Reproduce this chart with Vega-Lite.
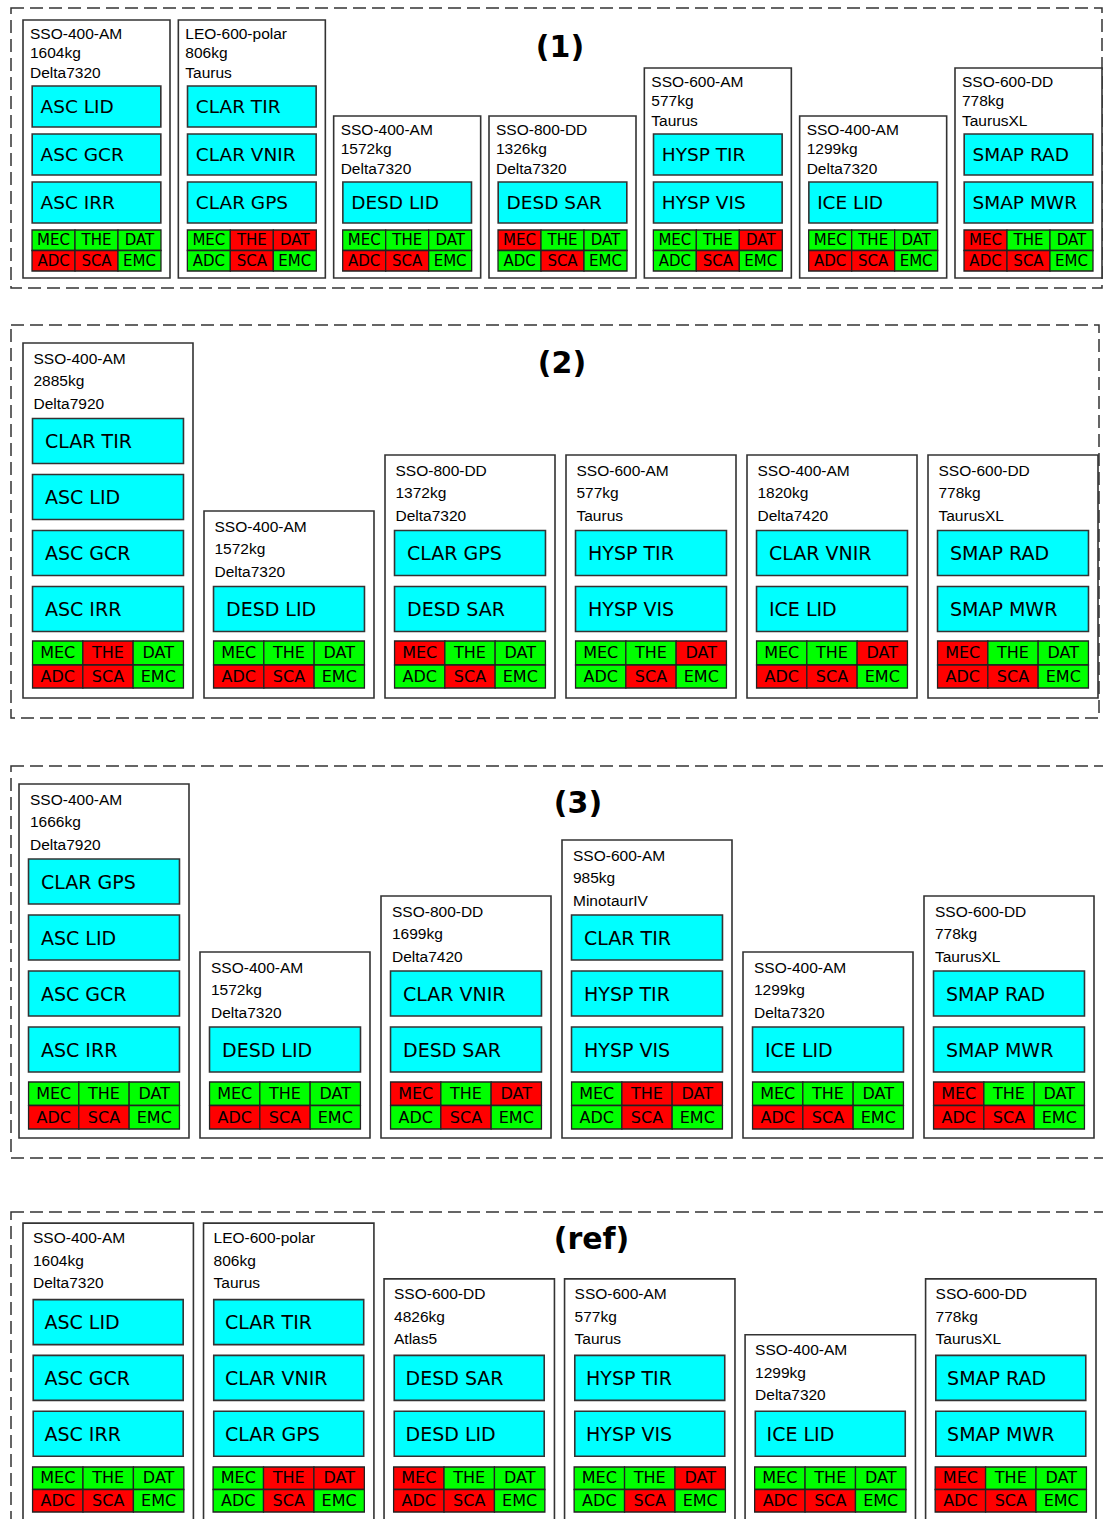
{
  "$schema": "https://vega.github.io/schema/vega-lite/v6.json",
  "padding": {"left": 10, "top": 7, "right": 0, "bottom": 0},
  "autosize": {"type": "pad"},
  "background": "white",
  "config": {
    "view": {"stroke": "#333", "strokeWidth": 1.5, "strokeDash": [13, 6]},
    "title": {"font": "DejaVu Sans", "fontSize": 30, "fontWeight": "bold", "anchor": "middle", "baseline": "alphabetic", "color": "#000"},
    "text": {"color": "#000"}
  },
  "datasets": {
    "sats": [
      {"id": "1-1", "panel": "1", "sat": 1, "orbit": "SSO-400-AM", "mass": "1604kg", "launcher": "Delta7320", "MEC": "ok", "THE": "ok", "DAT": "ok", "ADC": "fail", "SCA": "fail", "EMC": "ok"},
      {"id": "1-2", "panel": "1", "sat": 2, "orbit": "LEO-600-polar", "mass": "806kg", "launcher": "Taurus", "MEC": "ok", "THE": "fail", "DAT": "fail", "ADC": "ok", "SCA": "fail", "EMC": "ok"},
      {"id": "1-3", "panel": "1", "sat": 3, "orbit": "SSO-400-AM", "mass": "1572kg", "launcher": "Delta7320", "MEC": "ok", "THE": "ok", "DAT": "ok", "ADC": "fail", "SCA": "fail", "EMC": "ok"},
      {"id": "1-4", "panel": "1", "sat": 4, "orbit": "SSO-800-DD", "mass": "1326kg", "launcher": "Delta7320", "MEC": "fail", "THE": "ok", "DAT": "ok", "ADC": "ok", "SCA": "fail", "EMC": "ok"},
      {"id": "1-5", "panel": "1", "sat": 5, "orbit": "SSO-600-AM", "mass": "577kg", "launcher": "Taurus", "MEC": "ok", "THE": "ok", "DAT": "fail", "ADC": "ok", "SCA": "fail", "EMC": "ok"},
      {"id": "1-6", "panel": "1", "sat": 6, "orbit": "SSO-400-AM", "mass": "1299kg", "launcher": "Delta7320", "MEC": "ok", "THE": "ok", "DAT": "ok", "ADC": "fail", "SCA": "fail", "EMC": "ok"},
      {"id": "1-7", "panel": "1", "sat": 7, "orbit": "SSO-600-DD", "mass": "778kg", "launcher": "TaurusXL", "MEC": "fail", "THE": "ok", "DAT": "ok", "ADC": "fail", "SCA": "fail", "EMC": "ok"},
      {"id": "2-1", "panel": "2", "sat": 1, "orbit": "SSO-400-AM", "mass": "2885kg", "launcher": "Delta7920", "MEC": "ok", "THE": "fail", "DAT": "ok", "ADC": "fail", "SCA": "fail", "EMC": "ok"},
      {"id": "2-2", "panel": "2", "sat": 2, "orbit": "SSO-400-AM", "mass": "1572kg", "launcher": "Delta7320", "MEC": "ok", "THE": "ok", "DAT": "ok", "ADC": "fail", "SCA": "fail", "EMC": "ok"},
      {"id": "2-3", "panel": "2", "sat": 3, "orbit": "SSO-800-DD", "mass": "1372kg", "launcher": "Delta7320", "MEC": "fail", "THE": "ok", "DAT": "ok", "ADC": "ok", "SCA": "fail", "EMC": "ok"},
      {"id": "2-4", "panel": "2", "sat": 4, "orbit": "SSO-600-AM", "mass": "577kg", "launcher": "Taurus", "MEC": "ok", "THE": "ok", "DAT": "fail", "ADC": "ok", "SCA": "fail", "EMC": "ok"},
      {"id": "2-5", "panel": "2", "sat": 5, "orbit": "SSO-400-AM", "mass": "1820kg", "launcher": "Delta7420", "MEC": "ok", "THE": "ok", "DAT": "fail", "ADC": "fail", "SCA": "fail", "EMC": "ok"},
      {"id": "2-6", "panel": "2", "sat": 6, "orbit": "SSO-600-DD", "mass": "778kg", "launcher": "TaurusXL", "MEC": "fail", "THE": "ok", "DAT": "ok", "ADC": "fail", "SCA": "fail", "EMC": "ok"},
      {"id": "3-1", "panel": "3", "sat": 1, "orbit": "SSO-400-AM", "mass": "1666kg", "launcher": "Delta7920", "MEC": "ok", "THE": "ok", "DAT": "ok", "ADC": "fail", "SCA": "fail", "EMC": "ok"},
      {"id": "3-2", "panel": "3", "sat": 2, "orbit": "SSO-400-AM", "mass": "1572kg", "launcher": "Delta7320", "MEC": "ok", "THE": "ok", "DAT": "ok", "ADC": "fail", "SCA": "fail", "EMC": "ok"},
      {"id": "3-3", "panel": "3", "sat": 3, "orbit": "SSO-800-DD", "mass": "1699kg", "launcher": "Delta7420", "MEC": "fail", "THE": "ok", "DAT": "fail", "ADC": "ok", "SCA": "fail", "EMC": "ok"},
      {"id": "3-4", "panel": "3", "sat": 4, "orbit": "SSO-600-AM", "mass": "985kg", "launcher": "MinotaurIV", "MEC": "ok", "THE": "fail", "DAT": "fail", "ADC": "ok", "SCA": "fail", "EMC": "ok"},
      {"id": "3-5", "panel": "3", "sat": 5, "orbit": "SSO-400-AM", "mass": "1299kg", "launcher": "Delta7320", "MEC": "ok", "THE": "ok", "DAT": "ok", "ADC": "fail", "SCA": "fail", "EMC": "ok"},
      {"id": "3-6", "panel": "3", "sat": 6, "orbit": "SSO-600-DD", "mass": "778kg", "launcher": "TaurusXL", "MEC": "fail", "THE": "ok", "DAT": "ok", "ADC": "fail", "SCA": "fail", "EMC": "ok"},
      {"id": "r-1", "panel": "ref", "sat": 1, "orbit": "SSO-400-AM", "mass": "1604kg", "launcher": "Delta7320", "MEC": "ok", "THE": "ok", "DAT": "ok", "ADC": "fail", "SCA": "fail", "EMC": "ok"},
      {"id": "r-2", "panel": "ref", "sat": 2, "orbit": "LEO-600-polar", "mass": "806kg", "launcher": "Taurus", "MEC": "ok", "THE": "fail", "DAT": "fail", "ADC": "ok", "SCA": "fail", "EMC": "ok"},
      {"id": "r-3", "panel": "ref", "sat": 3, "orbit": "SSO-600-DD", "mass": "4826kg", "launcher": "Atlas5", "MEC": "fail", "THE": "ok", "DAT": "ok", "ADC": "fail", "SCA": "fail", "EMC": "ok"},
      {"id": "r-4", "panel": "ref", "sat": 4, "orbit": "SSO-600-AM", "mass": "577kg", "launcher": "Taurus", "MEC": "ok", "THE": "ok", "DAT": "fail", "ADC": "ok", "SCA": "fail", "EMC": "ok"},
      {"id": "r-5", "panel": "ref", "sat": 5, "orbit": "SSO-400-AM", "mass": "1299kg", "launcher": "Delta7320", "MEC": "ok", "THE": "ok", "DAT": "ok", "ADC": "fail", "SCA": "fail", "EMC": "ok"},
      {"id": "r-6", "panel": "ref", "sat": 6, "orbit": "SSO-600-DD", "mass": "778kg", "launcher": "TaurusXL", "MEC": "fail", "THE": "ok", "DAT": "ok", "ADC": "fail", "SCA": "fail", "EMC": "ok"}
    ],
    "inst": [
      {"id": "1-1", "slot": 3, "name": "ASC LID"}, {"id": "1-1", "slot": 2, "name": "ASC GCR"}, {"id": "1-1", "slot": 1, "name": "ASC IRR"},
      {"id": "1-2", "slot": 3, "name": "CLAR TIR"}, {"id": "1-2", "slot": 2, "name": "CLAR VNIR"}, {"id": "1-2", "slot": 1, "name": "CLAR GPS"},
      {"id": "1-3", "slot": 1, "name": "DESD LID"},
      {"id": "1-4", "slot": 1, "name": "DESD SAR"},
      {"id": "1-5", "slot": 2, "name": "HYSP TIR"}, {"id": "1-5", "slot": 1, "name": "HYSP VIS"},
      {"id": "1-6", "slot": 1, "name": "ICE LID"},
      {"id": "1-7", "slot": 2, "name": "SMAP RAD"}, {"id": "1-7", "slot": 1, "name": "SMAP MWR"},
      {"id": "2-1", "slot": 4, "name": "CLAR TIR"}, {"id": "2-1", "slot": 3, "name": "ASC LID"}, {"id": "2-1", "slot": 2, "name": "ASC GCR"}, {"id": "2-1", "slot": 1, "name": "ASC IRR"},
      {"id": "2-2", "slot": 1, "name": "DESD LID"},
      {"id": "2-3", "slot": 2, "name": "CLAR GPS"}, {"id": "2-3", "slot": 1, "name": "DESD SAR"},
      {"id": "2-4", "slot": 2, "name": "HYSP TIR"}, {"id": "2-4", "slot": 1, "name": "HYSP VIS"},
      {"id": "2-5", "slot": 2, "name": "CLAR VNIR"}, {"id": "2-5", "slot": 1, "name": "ICE LID"},
      {"id": "2-6", "slot": 2, "name": "SMAP RAD"}, {"id": "2-6", "slot": 1, "name": "SMAP MWR"},
      {"id": "3-1", "slot": 4, "name": "CLAR GPS"}, {"id": "3-1", "slot": 3, "name": "ASC LID"}, {"id": "3-1", "slot": 2, "name": "ASC GCR"}, {"id": "3-1", "slot": 1, "name": "ASC IRR"},
      {"id": "3-2", "slot": 1, "name": "DESD LID"},
      {"id": "3-3", "slot": 2, "name": "CLAR VNIR"}, {"id": "3-3", "slot": 1, "name": "DESD SAR"},
      {"id": "3-4", "slot": 3, "name": "CLAR TIR"}, {"id": "3-4", "slot": 2, "name": "HYSP TIR"}, {"id": "3-4", "slot": 1, "name": "HYSP VIS"},
      {"id": "3-5", "slot": 1, "name": "ICE LID"},
      {"id": "3-6", "slot": 2, "name": "SMAP RAD"}, {"id": "3-6", "slot": 1, "name": "SMAP MWR"},
      {"id": "r-1", "slot": 3, "name": "ASC LID"}, {"id": "r-1", "slot": 2, "name": "ASC GCR"}, {"id": "r-1", "slot": 1, "name": "ASC IRR"},
      {"id": "r-2", "slot": 3, "name": "CLAR TIR"}, {"id": "r-2", "slot": 2, "name": "CLAR VNIR"}, {"id": "r-2", "slot": 1, "name": "CLAR GPS"},
      {"id": "r-3", "slot": 2, "name": "DESD SAR"}, {"id": "r-3", "slot": 1, "name": "DESD LID"},
      {"id": "r-4", "slot": 2, "name": "HYSP TIR"}, {"id": "r-4", "slot": 1, "name": "HYSP VIS"},
      {"id": "r-5", "slot": 1, "name": "ICE LID"},
      {"id": "r-6", "slot": 2, "name": "SMAP RAD"}, {"id": "r-6", "slot": 1, "name": "SMAP MWR"}
    ]
  },
  "resolve": {"scale": {"x": "independent", "y": "independent", "xOffset": "independent"}},
  "spacing": 52,
  "vconcat": [
    {
      "resolve": {"scale": {"x": "independent", "y": "independent", "xOffset": "independent"}},
      "spacing": 46,
      "vconcat": [
        {
          "resolve": {"scale": {"x": "independent", "y": "independent", "xOffset": "independent"}},
          "spacing": 35,
          "vconcat": [
            {
              "width": 1091, "height": 280,
              "title": {"text": "(1)", "offset": -55, "dx": 3.5},
              "resolve": {"scale": {"xOffset": "independent"}},
              "layer": [
                {
                  "data": {"name": "inst"},
                  "transform": [
                    {"lookup": "id", "from": {"data": {"name": "sats"}, "key": "id", "fields": ["panel", "sat", "orbit", "mass", "launcher"]}},
                    {"filter": "datum.panel === '1'"}
                  ],
                  "layer": [
                    {
                      "mark": {"type": "rect", "fill": "white", "stroke": "#333", "strokeWidth": 1.6, "yOffset": -86.5, "y2Offset": 27.5},
                      "encoding": {
                        "x": {"field": "sat", "type": "ordinal", "scale": {"type": "band", "domain": [1, 2, 3, 4, 5, 6, 7], "range": [12, 1091], "paddingInner": 0.0536, "paddingOuter": 0}, "axis": null},
                        "y": {"aggregate": "max", "field": "slot", "type": "quantitative", "scale": {"domain": [-0.78125, 5.05208], "nice": false, "zero": false}, "axis": null},
                        "y2": {"datum": 0}
                      }
                    },
                    {
                      "mark": {"type": "rect", "fill": "#00ffff", "stroke": "#333", "strokeWidth": 1.6, "width": {"band": 0.875}, "yOffset": -20.5, "y2Offset": 20.5},
                      "encoding": {
                        "x": {"field": "sat", "type": "ordinal", "axis": null},
                        "y": {"field": "slot", "type": "quantitative", "axis": null},
                        "y2": {"field": "slot"}
                      }
                    },
                    {
                      "mark": {"type": "text", "align": "left", "baseline": "middle", "font": "DejaVu Sans", "fontSize": 18.5, "dx": 17.5, "dy": 1},
                      "encoding": {
                        "x": {"field": "sat", "type": "ordinal", "bandPosition": 0, "axis": null},
                        "y": {"field": "slot", "type": "quantitative", "axis": null},
                        "text": {"field": "name"}
                      }
                    }
                  ]
                },
                {
                  "data": {"name": "inst"},
                  "transform": [
                    {"lookup": "id", "from": {"data": {"name": "sats"}, "key": "id", "fields": ["panel", "sat", "orbit", "mass", "launcher"]}},
                    {"filter": "datum.panel === '1'"},
                    {"joinaggregate": [{"op": "max", "field": "slot", "as": "top"}], "groupby": ["id"]},
                    {"filter": "datum.slot === datum.top"}
                  ],
                  "encoding": {
                    "x": {"field": "sat", "type": "ordinal", "bandPosition": 0, "axis": null},
                    "y": {"field": "slot", "type": "quantitative", "axis": null}
                  },
                  "layer": [
                    {"mark": {"type": "text", "align": "left", "baseline": "middle", "font": "Liberation Sans", "fontSize": 15.5, "dx": 7, "yOffset": -72.5}, "encoding": {"text": {"field": "orbit"}}},
                    {"mark": {"type": "text", "align": "left", "baseline": "middle", "font": "Liberation Sans", "fontSize": 15.5, "dx": 7, "yOffset": -53.5}, "encoding": {"text": {"field": "mass"}}},
                    {"mark": {"type": "text", "align": "left", "baseline": "middle", "font": "Liberation Sans", "fontSize": 15.5, "dx": 7, "yOffset": -33.5}, "encoding": {"text": {"field": "launcher"}}}
                  ]
                },
                {
                  "data": {"name": "sats"},
                  "transform": [{"filter": "datum.panel === '1'"}, {"fold": ["MEC", "THE", "DAT"], "as": ["code", "state"]}],
                  "encoding": {
                    "x": {"field": "sat", "type": "ordinal", "axis": null},
                    "xOffset": {"field": "code", "type": "nominal", "scale": {"domain": ["MEC", "THE", "DAT"], "paddingOuter": 0.21, "paddingInner": 0}},
                    "y": {"datum": 0, "axis": null}
                  },
                  "layer": [
                    {"mark": {"type": "rect", "stroke": "#222", "strokeWidth": 1.3, "yOffset": -20.5, "y2Offset": 0}, "encoding": {"y2": {"datum": 0}, "color": {"field": "state", "type": "nominal", "scale": {"domain": ["ok", "fail"], "range": ["#00ff00", "#ff0000"]}, "legend": null}}},
                    {"mark": {"type": "text", "align": "center", "baseline": "middle", "font": "DejaVu Sans", "fontSize": 15, "yOffset": -10}, "encoding": {"text": {"field": "code"}}}
                  ]
                },
                {
                  "data": {"name": "sats"},
                  "transform": [{"filter": "datum.panel === '1'"}, {"fold": ["ADC", "SCA", "EMC"], "as": ["code", "state"]}],
                  "encoding": {
                    "x": {"field": "sat", "type": "ordinal", "axis": null},
                    "xOffset": {"field": "code", "type": "nominal", "scale": {"domain": ["ADC", "SCA", "EMC"], "paddingOuter": 0.21, "paddingInner": 0}},
                    "y": {"datum": 0, "axis": null}
                  },
                  "layer": [
                    {"mark": {"type": "rect", "stroke": "#222", "strokeWidth": 1.3, "yOffset": 0, "y2Offset": 20.5}, "encoding": {"y2": {"datum": 0}, "color": {"field": "state", "type": "nominal", "scale": {"domain": ["ok", "fail"], "range": ["#00ff00", "#ff0000"]}, "legend": null}}},
                    {"mark": {"type": "text", "align": "center", "baseline": "middle", "font": "DejaVu Sans", "fontSize": 15, "yOffset": 10.5}, "encoding": {"text": {"field": "code"}}}
                  ]
                }
              ]
            },
            {
              "width": 1088, "height": 393,
              "title": {"text": "(2)", "offset": -54, "dx": 7},
              "resolve": {"scale": {"xOffset": "independent"}},
              "layer": [
                {
                  "data": {"name": "inst"},
                  "transform": [
                    {"lookup": "id", "from": {"data": {"name": "sats"}, "key": "id", "fields": ["panel", "sat", "orbit", "mass", "launcher"]}},
                    {"filter": "datum.panel === '2'"}
                  ],
                  "layer": [
                    {
                      "mark": {"type": "rect", "fill": "white", "stroke": "#333", "strokeWidth": 1.6, "yOffset": -98, "y2Offset": 33},
                      "encoding": {
                        "x": {"field": "sat", "type": "ordinal", "scale": {"type": "band", "domain": [1, 2, 3, 4, 5, 6], "range": [12, 1087], "paddingInner": 0.0608, "paddingOuter": 0}, "axis": null},
                        "y": {"aggregate": "max", "field": "slot", "type": "quantitative", "scale": {"domain": [-0.94643, 6.07143], "nice": false, "zero": false}, "axis": null},
                        "y2": {"datum": 0}
                      }
                    },
                    {
                      "mark": {"type": "rect", "fill": "#00ffff", "stroke": "#333", "strokeWidth": 1.6, "width": {"band": 0.888}, "yOffset": -22.5, "y2Offset": 22.5},
                      "encoding": {
                        "x": {"field": "sat", "type": "ordinal", "axis": null},
                        "y": {"field": "slot", "type": "quantitative", "axis": null},
                        "y2": {"field": "slot"}
                      }
                    },
                    {
                      "mark": {"type": "text", "align": "left", "baseline": "middle", "font": "DejaVu Sans", "fontSize": 19, "dx": 22, "dy": 1},
                      "encoding": {
                        "x": {"field": "sat", "type": "ordinal", "bandPosition": 0, "axis": null},
                        "y": {"field": "slot", "type": "quantitative", "axis": null},
                        "text": {"field": "name"}
                      }
                    }
                  ]
                },
                {
                  "data": {"name": "inst"},
                  "transform": [
                    {"lookup": "id", "from": {"data": {"name": "sats"}, "key": "id", "fields": ["panel", "sat", "orbit", "mass", "launcher"]}},
                    {"filter": "datum.panel === '2'"},
                    {"joinaggregate": [{"op": "max", "field": "slot", "as": "top"}], "groupby": ["id"]},
                    {"filter": "datum.slot === datum.top"}
                  ],
                  "encoding": {
                    "x": {"field": "sat", "type": "ordinal", "bandPosition": 0, "axis": null},
                    "y": {"field": "slot", "type": "quantitative", "axis": null}
                  },
                  "layer": [
                    {"mark": {"type": "text", "align": "left", "baseline": "middle", "font": "Liberation Sans", "fontSize": 15.5, "dx": 10.5, "yOffset": -82}, "encoding": {"text": {"field": "orbit"}}},
                    {"mark": {"type": "text", "align": "left", "baseline": "middle", "font": "Liberation Sans", "fontSize": 15.5, "dx": 10.5, "yOffset": -60}, "encoding": {"text": {"field": "mass"}}},
                    {"mark": {"type": "text", "align": "left", "baseline": "middle", "font": "Liberation Sans", "fontSize": 15.5, "dx": 10.5, "yOffset": -37}, "encoding": {"text": {"field": "launcher"}}}
                  ]
                },
                {
                  "data": {"name": "sats"},
                  "transform": [{"filter": "datum.panel === '2'"}, {"fold": ["MEC", "THE", "DAT"], "as": ["code", "state"]}],
                  "encoding": {
                    "x": {"field": "sat", "type": "ordinal", "axis": null},
                    "xOffset": {"field": "code", "type": "nominal", "scale": {"domain": ["MEC", "THE", "DAT"], "paddingOuter": 0.19, "paddingInner": 0}},
                    "y": {"datum": 0, "axis": null}
                  },
                  "layer": [
                    {"mark": {"type": "rect", "stroke": "#222", "strokeWidth": 1.3, "yOffset": -24, "y2Offset": 0}, "encoding": {"y2": {"datum": 0}, "color": {"field": "state", "type": "nominal", "scale": {"domain": ["ok", "fail"], "range": ["#00ff00", "#ff0000"]}, "legend": null}}},
                    {"mark": {"type": "text", "align": "center", "baseline": "middle", "font": "DejaVu Sans", "fontSize": 16, "yOffset": -11.5}, "encoding": {"text": {"field": "code"}}}
                  ]
                },
                {
                  "data": {"name": "sats"},
                  "transform": [{"filter": "datum.panel === '2'"}, {"fold": ["ADC", "SCA", "EMC"], "as": ["code", "state"]}],
                  "encoding": {
                    "x": {"field": "sat", "type": "ordinal", "axis": null},
                    "xOffset": {"field": "code", "type": "nominal", "scale": {"domain": ["ADC", "SCA", "EMC"], "paddingOuter": 0.19, "paddingInner": 0}},
                    "y": {"datum": 0, "axis": null}
                  },
                  "layer": [
                    {"mark": {"type": "rect", "stroke": "#222", "strokeWidth": 1.3, "yOffset": 0, "y2Offset": 23}, "encoding": {"y2": {"datum": 0}, "color": {"field": "state", "type": "nominal", "scale": {"domain": ["ok", "fail"], "range": ["#00ff00", "#ff0000"]}, "legend": null}}},
                    {"mark": {"type": "text", "align": "center", "baseline": "middle", "font": "DejaVu Sans", "fontSize": 16, "yOffset": 12}, "encoding": {"text": {"field": "code"}}}
                  ]
                }
              ]
            }
          ]
        },
        {
          "width": 1093, "height": 392,
          "title": {"text": "(3)", "offset": -53, "dx": 20.5},
          "resolve": {"scale": {"xOffset": "independent"}},
          "layer": [
            {
              "data": {"name": "inst"},
              "transform": [
                {"lookup": "id", "from": {"data": {"name": "sats"}, "key": "id", "fields": ["panel", "sat", "orbit", "mass", "launcher"]}},
                {"filter": "datum.panel === '3'"}
              ],
              "layer": [
                {
                  "mark": {"type": "rect", "fill": "white", "stroke": "#333", "strokeWidth": 1.6, "yOffset": -97.5, "y2Offset": 32.5},
                  "encoding": {
                    "x": {"field": "sat", "type": "ordinal", "scale": {"type": "band", "domain": [1, 2, 3, 4, 5, 6], "range": [8, 1083], "paddingInner": 0.0608, "paddingOuter": 0}, "axis": null},
                    "y": {"aggregate": "max", "field": "slot", "type": "quantitative", "scale": {"domain": [-0.9375, 6.0625], "nice": false, "zero": false}, "axis": null},
                    "y2": {"datum": 0}
                  }
                },
                {
                  "mark": {"type": "rect", "fill": "#00ffff", "stroke": "#333", "strokeWidth": 1.6, "width": {"band": 0.888}, "yOffset": -22.5, "y2Offset": 22.5},
                  "encoding": {
                    "x": {"field": "sat", "type": "ordinal", "axis": null},
                    "y": {"field": "slot", "type": "quantitative", "axis": null},
                    "y2": {"field": "slot"}
                  }
                },
                {
                  "mark": {"type": "text", "align": "left", "baseline": "middle", "font": "DejaVu Sans", "fontSize": 19, "dx": 22, "dy": 1},
                  "encoding": {
                    "x": {"field": "sat", "type": "ordinal", "bandPosition": 0, "axis": null},
                    "y": {"field": "slot", "type": "quantitative", "axis": null},
                    "text": {"field": "name"}
                  }
                }
              ]
            },
            {
              "data": {"name": "inst"},
              "transform": [
                {"lookup": "id", "from": {"data": {"name": "sats"}, "key": "id", "fields": ["panel", "sat", "orbit", "mass", "launcher"]}},
                {"filter": "datum.panel === '3'"},
                {"joinaggregate": [{"op": "max", "field": "slot", "as": "top"}], "groupby": ["id"]},
                {"filter": "datum.slot === datum.top"}
              ],
              "encoding": {
                "x": {"field": "sat", "type": "ordinal", "bandPosition": 0, "axis": null},
                "y": {"field": "slot", "type": "quantitative", "axis": null}
              },
              "layer": [
                {"mark": {"type": "text", "align": "left", "baseline": "middle", "font": "Liberation Sans", "fontSize": 15.5, "dx": 11, "yOffset": -81.5}, "encoding": {"text": {"field": "orbit"}}},
                {"mark": {"type": "text", "align": "left", "baseline": "middle", "font": "Liberation Sans", "fontSize": 15.5, "dx": 11, "yOffset": -59.5}, "encoding": {"text": {"field": "mass"}}},
                {"mark": {"type": "text", "align": "left", "baseline": "middle", "font": "Liberation Sans", "fontSize": 15.5, "dx": 11, "yOffset": -36.5}, "encoding": {"text": {"field": "launcher"}}}
              ]
            },
            {
              "data": {"name": "sats"},
              "transform": [{"filter": "datum.panel === '3'"}, {"fold": ["MEC", "THE", "DAT"], "as": ["code", "state"]}],
              "encoding": {
                "x": {"field": "sat", "type": "ordinal", "axis": null},
                "xOffset": {"field": "code", "type": "nominal", "scale": {"domain": ["MEC", "THE", "DAT"], "paddingOuter": 0.19, "paddingInner": 0}},
                "y": {"datum": 0, "axis": null}
              },
              "layer": [
                {"mark": {"type": "rect", "stroke": "#222", "strokeWidth": 1.3, "yOffset": -23.5, "y2Offset": 0}, "encoding": {"y2": {"datum": 0}, "color": {"field": "state", "type": "nominal", "scale": {"domain": ["ok", "fail"], "range": ["#00ff00", "#ff0000"]}, "legend": null}}},
                {"mark": {"type": "text", "align": "center", "baseline": "middle", "font": "DejaVu Sans", "fontSize": 16, "yOffset": -11.5}, "encoding": {"text": {"field": "code"}}}
              ]
            },
            {
              "data": {"name": "sats"},
              "transform": [{"filter": "datum.panel === '3'"}, {"fold": ["ADC", "SCA", "EMC"], "as": ["code", "state"]}],
              "encoding": {
                "x": {"field": "sat", "type": "ordinal", "axis": null},
                "xOffset": {"field": "code", "type": "nominal", "scale": {"domain": ["ADC", "SCA", "EMC"], "paddingOuter": 0.19, "paddingInner": 0}},
                "y": {"datum": 0, "axis": null}
              },
              "layer": [
                {"mark": {"type": "rect", "stroke": "#222", "strokeWidth": 1.3, "yOffset": 0, "y2Offset": 23.5}, "encoding": {"y2": {"datum": 0}, "color": {"field": "state", "type": "nominal", "scale": {"domain": ["ok", "fail"], "range": ["#00ff00", "#ff0000"]}, "legend": null}}},
                {"mark": {"type": "text", "align": "center", "baseline": "middle", "font": "DejaVu Sans", "fontSize": 16, "yOffset": 12}, "encoding": {"text": {"field": "code"}}}
              ]
            }
          ]
        }
      ]
    },
    {
      "width": 1093, "height": 393,
      "title": {"text": "(ref)", "offset": -43, "dx": 34},
      "resolve": {"scale": {"xOffset": "independent"}},
      "layer": [
        {
          "data": {"name": "inst"},
          "transform": [
            {"lookup": "id", "from": {"data": {"name": "sats"}, "key": "id", "fields": ["panel", "sat", "orbit", "mass", "launcher"]}},
            {"filter": "datum.panel === 'ref'"}
          ],
          "layer": [
            {
              "mark": {"type": "rect", "fill": "white", "stroke": "#333", "strokeWidth": 1.6, "yOffset": -99, "y2Offset": 32.5},
              "encoding": {
                "x": {"field": "sat", "type": "ordinal", "scale": {"type": "band", "domain": [1, 2, 3, 4, 5, 6], "range": [12, 1085], "paddingInner": 0.056, "paddingOuter": 0}, "axis": null},
                "y": {"aggregate": "max", "field": "slot", "type": "quantitative", "scale": {"domain": [-2.0699, 4.973], "nice": false, "zero": false}, "axis": null},
                "y2": {"datum": 0}
              }
            },
            {
              "mark": {"type": "rect", "fill": "#00ffff", "stroke": "#333", "strokeWidth": 1.6, "width": {"band": 0.88}, "yOffset": -22.5, "y2Offset": 22.5},
              "encoding": {
                "x": {"field": "sat", "type": "ordinal", "axis": null},
                "y": {"field": "slot", "type": "quantitative", "axis": null},
                "y2": {"field": "slot"}
              }
            },
            {
              "mark": {"type": "text", "align": "left", "baseline": "middle", "font": "DejaVu Sans", "fontSize": 19, "dx": 21.5, "dy": 1},
              "encoding": {
                "x": {"field": "sat", "type": "ordinal", "bandPosition": 0, "axis": null},
                "y": {"field": "slot", "type": "quantitative", "axis": null},
                "text": {"field": "name"}
              }
            }
          ]
        },
        {
          "data": {"name": "inst"},
          "transform": [
            {"lookup": "id", "from": {"data": {"name": "sats"}, "key": "id", "fields": ["panel", "sat", "orbit", "mass", "launcher"]}},
            {"filter": "datum.panel === 'ref'"},
            {"joinaggregate": [{"op": "max", "field": "slot", "as": "top"}], "groupby": ["id"]},
            {"filter": "datum.slot === datum.top"}
          ],
          "encoding": {
            "x": {"field": "sat", "type": "ordinal", "bandPosition": 0, "axis": null},
            "y": {"field": "slot", "type": "quantitative", "axis": null}
          },
          "layer": [
            {"mark": {"type": "text", "align": "left", "baseline": "middle", "font": "Liberation Sans", "fontSize": 15.5, "dx": 10, "yOffset": -84}, "encoding": {"text": {"field": "orbit"}}},
            {"mark": {"type": "text", "align": "left", "baseline": "middle", "font": "Liberation Sans", "fontSize": 15.5, "dx": 10, "yOffset": -61}, "encoding": {"text": {"field": "mass"}}},
            {"mark": {"type": "text", "align": "left", "baseline": "middle", "font": "Liberation Sans", "fontSize": 15.5, "dx": 10, "yOffset": -39}, "encoding": {"text": {"field": "launcher"}}}
          ]
        },
        {
          "data": {"name": "sats"},
          "transform": [{"filter": "datum.panel === 'ref'"}, {"fold": ["MEC", "THE", "DAT"], "as": ["code", "state"]}],
          "encoding": {
            "x": {"field": "sat", "type": "ordinal", "axis": null},
            "xOffset": {"field": "code", "type": "nominal", "scale": {"domain": ["MEC", "THE", "DAT"], "paddingOuter": 0.19, "paddingInner": 0}},
            "y": {"datum": 0, "axis": null}
          },
          "layer": [
            {"mark": {"type": "rect", "stroke": "#222", "strokeWidth": 1.3, "yOffset": -22.5, "y2Offset": 0}, "encoding": {"y2": {"datum": 0}, "color": {"field": "state", "type": "nominal", "scale": {"domain": ["ok", "fail"], "range": ["#00ff00", "#ff0000"]}, "legend": null}}},
            {"mark": {"type": "text", "align": "center", "baseline": "middle", "font": "DejaVu Sans", "fontSize": 16, "yOffset": -11}, "encoding": {"text": {"field": "code"}}}
          ]
        },
        {
          "data": {"name": "sats"},
          "transform": [{"filter": "datum.panel === 'ref'"}, {"fold": ["ADC", "SCA", "EMC"], "as": ["code", "state"]}],
          "encoding": {
            "x": {"field": "sat", "type": "ordinal", "axis": null},
            "xOffset": {"field": "code", "type": "nominal", "scale": {"domain": ["ADC", "SCA", "EMC"], "paddingOuter": 0.19, "paddingInner": 0}},
            "y": {"datum": 0, "axis": null}
          },
          "layer": [
            {"mark": {"type": "rect", "stroke": "#222", "strokeWidth": 1.3, "yOffset": 0, "y2Offset": 22.5}, "encoding": {"y2": {"datum": 0}, "color": {"field": "state", "type": "nominal", "scale": {"domain": ["ok", "fail"], "range": ["#00ff00", "#ff0000"]}, "legend": null}}},
            {"mark": {"type": "text", "align": "center", "baseline": "middle", "font": "DejaVu Sans", "fontSize": 16, "yOffset": 11.5}, "encoding": {"text": {"field": "code"}}}
          ]
        }
      ]
    }
  ]
}
